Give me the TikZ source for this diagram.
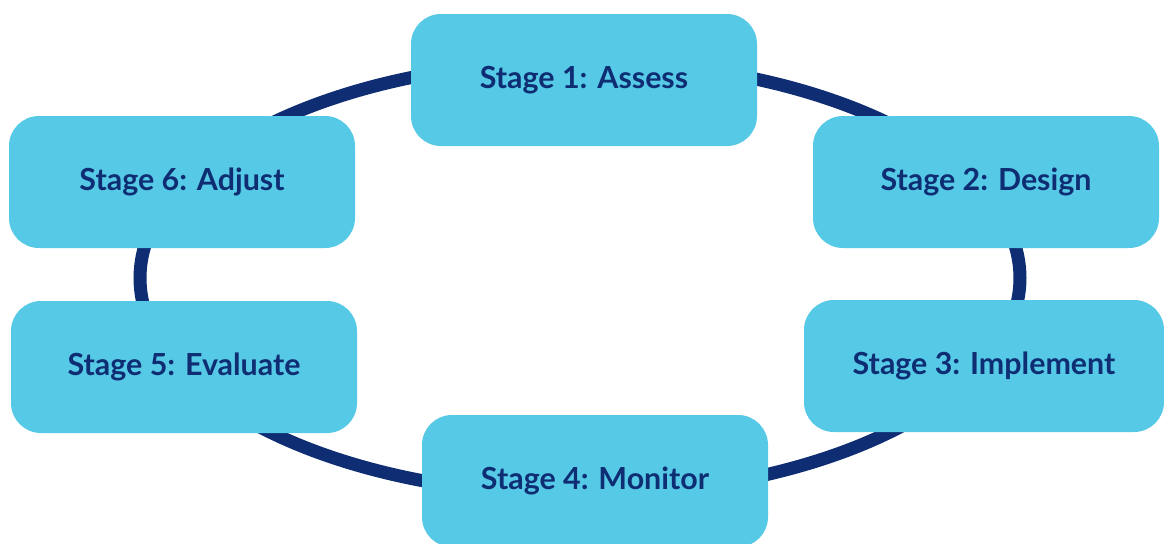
\documentclass[tikz,border=0pt]{standalone}
\usepackage{fontspec}
\setmainfont{Lato}
\usepackage{tikz}

\definecolor{stagefill}{HTML}{55C9E5}
\definecolor{stagenavy}{HTML}{0E2D73}

\tikzset{
    stagebox/.style={fill=stagefill, rounded corners=15pt, inner sep=0pt,
        minimum width=173pt, minimum height=66pt, text=stagenavy,
        font=\bfseries\fontsize{15.2}{17}\selectfont},
    ring/.style={draw=stagenavy, line width=6.5pt}
}

\begin{document}
\begin{tikzpicture}[x=0.5pt,y=-0.5pt]
    \useasboundingbox (0,0) rectangle (1164,543);
    \draw[ring] (580,278) ellipse [x radius=220pt, y radius=108.5pt];
    \node[stagebox] (assess) at (584,80) {Stage 1: Assess};
    \node[stagebox] (design) at (986,182) {Stage 2: Design};
    \node[stagebox, minimum width=180pt] (implement) at (984,366) {Stage 3: Implement};
    \node[stagebox] (monitor) at (595,481) {Stage 4: Monitor};
    \node[stagebox] (evaluate) at (184,367) {Stage 5: Evaluate};
    \node[stagebox] (adjust) at (182,182) {Stage 6: Adjust};
\end{tikzpicture}
\end{document}
